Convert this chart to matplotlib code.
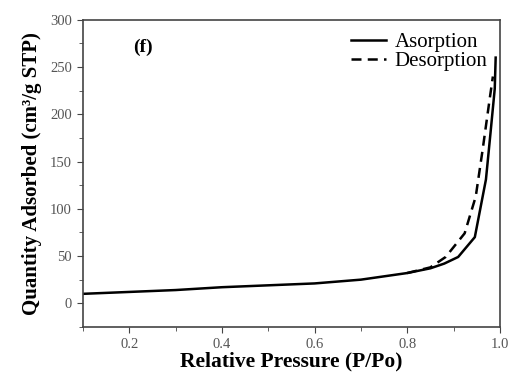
import matplotlib.pyplot as plt
from matplotlib.ticker import MultipleLocator

# values
ads_x = [0.10, 0.20, 0.30, 0.40, 0.50, 0.60, 0.70, 0.80, 0.85, 0.88, 0.91, 0.946, 0.97, 0.98, 0.989, 0.991]
ads_y = [10, 12, 14, 17, 19, 21, 25, 32, 37, 42, 49, 70, 131, 181, 227, 260]
des_x = [0.80, 0.85, 0.883, 0.924, 0.948, 0.963, 0.978, 0.985]
des_y = [32, 38, 49, 74, 113, 163, 216, 240]

plt.rcParams['font.family'] = ['Liberation Serif', 'DejaVu Serif']

fig = plt.figure(figsize=(5.09, 3.81), dpi=100)
ax = fig.add_axes([0.163, 0.142, 0.819, 0.806])

ax.plot(ads_x, ads_y, color='black', lw=1.8, label='Asorption')
ax.plot(des_x, des_y, color='black', lw=1.8, ls=(0, (4, 2.5)), label='Desorption')

ax.set_xlim(0.1, 1.0)
ax.set_ylim(-25, 300)
ax.xaxis.set_major_locator(MultipleLocator(0.2))
ax.xaxis.set_minor_locator(MultipleLocator(0.1))
ax.yaxis.set_major_locator(MultipleLocator(50))
ax.yaxis.set_minor_locator(MultipleLocator(25))
ax.tick_params(which='both', direction='out', color='#444444', labelcolor='#555555', labelsize=10.5)
ax.tick_params(which='major', length=4, pad=4)
ax.tick_params(which='minor', length=3)
ax.set_xticks([0.2, 0.4, 0.6, 0.8, 1.0])
ax.set_xticklabels(['0.2', '0.4', '0.6', '0.8', '1.0'])
for s in ax.spines.values():
    s.set_color('#444444')
    s.set_linewidth(1.2)

ax.set_xlabel('Relative Pressure (P/Po)', fontsize=15.5, fontweight='bold', labelpad=0)
ax.set_ylabel('Quantity Adsorbed (cm³/g STP)', fontsize=15, fontweight='bold', labelpad=6)

ax.text(0.144, 0.91, '(f)', transform=ax.transAxes, fontsize=14, fontweight='bold',
        ha='center', va='center')

ax.legend(loc='upper right', frameon=False, fontsize=15, handlelength=1.7,
          handletextpad=0.4, labelspacing=0.0, borderaxespad=0.2)

fig.savefig('out.png', dpi=100)
